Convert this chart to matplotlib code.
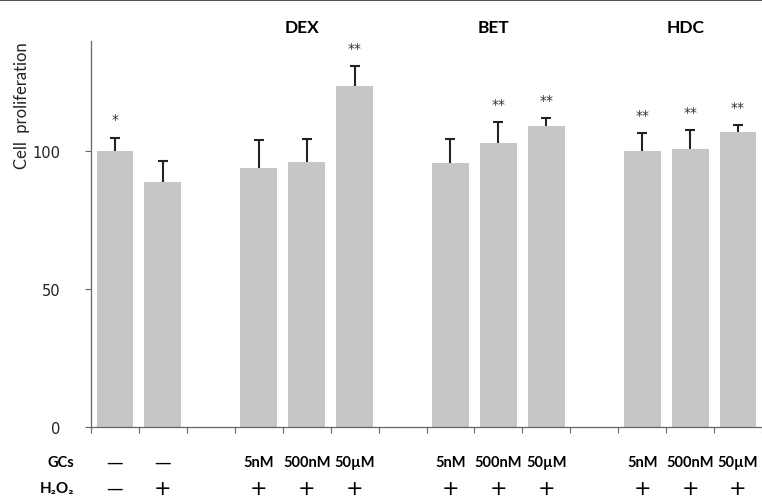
import numpy as np
import matplotlib.pyplot as plt
from matplotlib.lines import Line2D
from matplotlib.transforms import blended_transform_factory

# slot index of each bar (slots 2, 6, 10 left empty as group gaps)
slots = [0, 1, 3, 4, 5, 7, 8, 9, 11, 12, 13]
means = [100, 88.7, 93.8, 96.0, 123.6, 95.6, 102.9, 109.0, 100.0, 100.7, 106.9]
errs = [5.0, 7.7, 10.2, 8.3, 7.2, 8.7, 7.6, 3.0, 6.5, 6.9, 2.5]
stars = ['*', '', '', '', '**', '', '**', '**', '**', '**', '**']
gcs = ['—', '—', '5nM', '500nM', '50µM', '5nM', '500nM', '50µM',
       '5nM', '500nM', '50µM']
h2o2 = ['—', '+', '+', '+', '+', '+', '+', '+', '+', '+', '+']
groups = ['DEX', 'BET', 'HDC']
group_slots = [4, 8, 12]

FONT = 'Lato'

fig = plt.figure(figsize=(7.62, 5.02), dpi=100)
ax = fig.add_axes([91/762, 74/502, 1 - 91/762, 386/502])

ax.bar(slots, means, width=0.77, color='#c6c6c6', edgecolor='none', zorder=2)
# error bars behind the bars so only the upper half shows
eb = ax.errorbar(slots, means, yerr=[np.zeros(len(errs)), errs], fmt='none',
                 ecolor='#222222', elinewidth=1.5, capsize=3.5, capthick=1.5,
                 zorder=1)
eb[1][0].set_visible(False)  # lower caps

for s, m, e, st in zip(slots, means, errs, stars):
    if st:
        ax.annotate(st, (s, m + e), xytext=(0, 8), textcoords='offset points',
                    ha='center', va='bottom', fontsize=10, color='#333333')

ax.set_xlim(-0.5, -0.5 + (762 - 91) / 48.4)
ax.set_ylim(0, 140)

for side in ['top', 'right']:
    ax.spines[side].set_visible(False)
for side in ['left', 'bottom']:
    ax.spines[side].set_color('#666666')
    ax.spines[side].set_linewidth(0.9)

ax.set_yticks([0, 50, 100])
ax.tick_params(axis='y', length=4, width=0.8, color='#666666', pad=18,
               labelsize=10.5, labelcolor='#222222')
ax.set_xticks(np.arange(-0.5, 14, 1.0))
ax.set_xticklabels([])
ax.tick_params(axis='x', length=4, width=0.8, color='#666666')

fig.text(22/762, 1 - 106/502, 'Cell  proliferation', rotation=90,
         ha='center', va='center', fontsize=12, family=FONT, color='#222222')

# row labels under the axis
tr = blended_transform_factory(ax.transData, fig.transFigure)
y_gcs = 1 - 463/502
y_h2o2 = 1 - 489/502
fig.text(74/762, y_gcs, 'GCs', ha='right', va='center', fontsize=10.5,
         fontweight='bold', family=FONT)
fig.text(74/762, y_h2o2, 'H₂O₂', ha='right', va='center', fontsize=11,
         fontweight='bold', family=[FONT, 'DejaVu Sans'])
for s, g, h in zip(slots, gcs, h2o2):
    if g == '—':
        ax.text(s, y_gcs, g, transform=tr, ha='center', va='center',
                fontsize=12, family='DejaVu Sans')
    else:
        ax.text(s, y_gcs, g, transform=tr, ha='center', va='center',
                fontsize=10.5, fontweight='bold', family=FONT)
    ax.text(s, y_h2o2, h, transform=tr, ha='center', va='center',
            fontsize=15 if h == '+' else 12, family='DejaVu Sans')

for g, s in zip(groups, group_slots):
    ax.text(s - 0.1, 1 - 28/502, g, transform=tr, ha='center', va='center',
            fontsize=12.5, fontweight='bold', family=FONT)

fig.add_artist(Line2D([0, 1], [0.998, 0.998], color='#555555', lw=1.5))

fig.savefig('out.png', dpi=100)
